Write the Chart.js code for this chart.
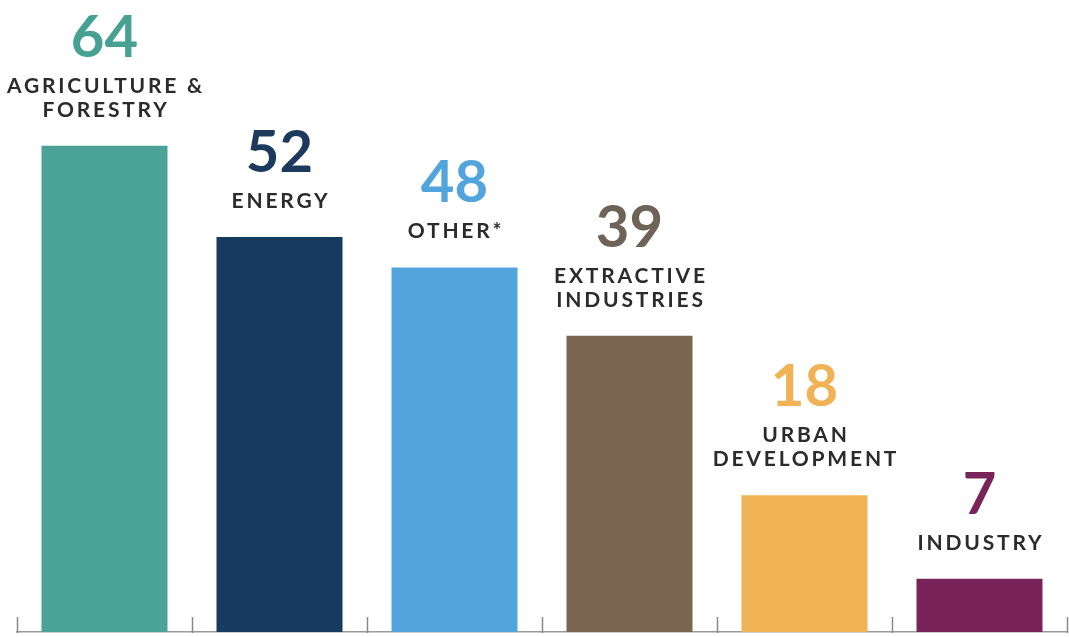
<!DOCTYPE html>
<html>
<head>
<meta charset="utf-8">
<script src="https://cdn.jsdelivr.net/npm/chart.js@4.4.1/dist/chart.umd.min.js"></script>
<style>
  html, body { margin: 0; padding: 0; background: #ffffff; }
  #wrap { width: 1069px; height: 637px; position: relative; }
</style>
</head>
<body>
<div id="wrap"><canvas id="chart"></canvas></div>
<script>
// Sector names (each entry is a list of label lines), values and colours
const categories = [
  ["AGRICULTURE &", "FORESTRY"],
  ["ENERGY"],
  ["OTHER*"],
  ["EXTRACTIVE", "INDUSTRIES"],
  ["URBAN", "DEVELOPMENT"],
  ["INDUSTRY"]
];
const values = [64, 52, 48, 39, 18, 7];
const barColors = ["#4aa396", "#173a5f", "#52a5dc", "#7a6651", "#efb255", "#78245a"];
const numberColors = ["#46a193", "#1b3a5e", "#52a5dc", "#6f6256", "#efb255", "#78245a"];

// Value number and sector name stacked above every bar
const barLabels = {
  id: "barLabels",
  afterDatasetsDraw(chart) {
    const ctx = chart.ctx;
    const meta = chart.getDatasetMeta(0);
    ctx.save();
    ctx.textAlign = "center";
    ctx.textBaseline = "alphabetic";
    meta.data.forEach((bar, i) => {
      const lines = categories[i];
      let y = bar.y - 29;
      ctx.fillStyle = "#2b2b2b";
      ctx.font = "bold 21px Lato, 'Open Sans', sans-serif";
      ctx.letterSpacing = "2.8px";
      for (let k = lines.length - 1; k >= 0; k--) {
        ctx.fillText(lines[k], bar.x + 1.5, y);
        y -= 24;
      }
      ctx.fillStyle = numberColors[i];
      ctx.font = "bold 58px Lato, 'Open Sans', sans-serif";
      ctx.letterSpacing = "0px";
      ctx.fillText(String(values[i]), bar.x, y + 24 - 36);
    });
    ctx.restore();
  }
};

// Short upward tick marks at the category boundaries on the baseline
const boundaryTicks = {
  id: "boundaryTicks",
  afterDatasetsDraw(chart) {
    const x = chart.scales.x;
    const ctx = chart.ctx;
    const n = categories.length;
    const step = (x.right - x.left) / n;
    const base = chart.chartArea.bottom;
    ctx.save();
    ctx.strokeStyle = "#8a8a8a";
    ctx.lineWidth = 1.5;
    for (let i = 0; i <= n; i++) {
      const px = Math.round(x.left + i * step) + 0.5;
      ctx.beginPath();
      ctx.moveTo(px, base - 15);
      ctx.lineTo(px, base + 1);
      ctx.stroke();
    }
    ctx.restore();
  }
};

new Chart(document.getElementById("chart"), {
  type: "bar",
  data: {
    labels: categories.map(l => l.join(" ")),
    datasets: [{
      data: values,
      backgroundColor: barColors,
      borderWidth: 0,
      barPercentage: 0.72,
      categoryPercentage: 1.0
    }]
  },
  options: {
    responsive: true,
    maintainAspectRatio: false,
    animation: false,
    layout: { padding: { left: 17, right: 2, top: 0, bottom: 0 } },
    plugins: { legend: { display: false }, tooltip: { enabled: false } },
    scales: {
      x: {
        grid: { display: false },
        ticks: { display: false },
        border: { display: true, color: "#9a9a9a", width: 1.5 },
        afterFit(scale) { scale.height = 5; }
      },
      y: {
        display: false,
        min: 0,
        max: 83.2
      }
    }
  },
  plugins: [barLabels, boundaryTicks]
});
</script>
</body>
</html>
